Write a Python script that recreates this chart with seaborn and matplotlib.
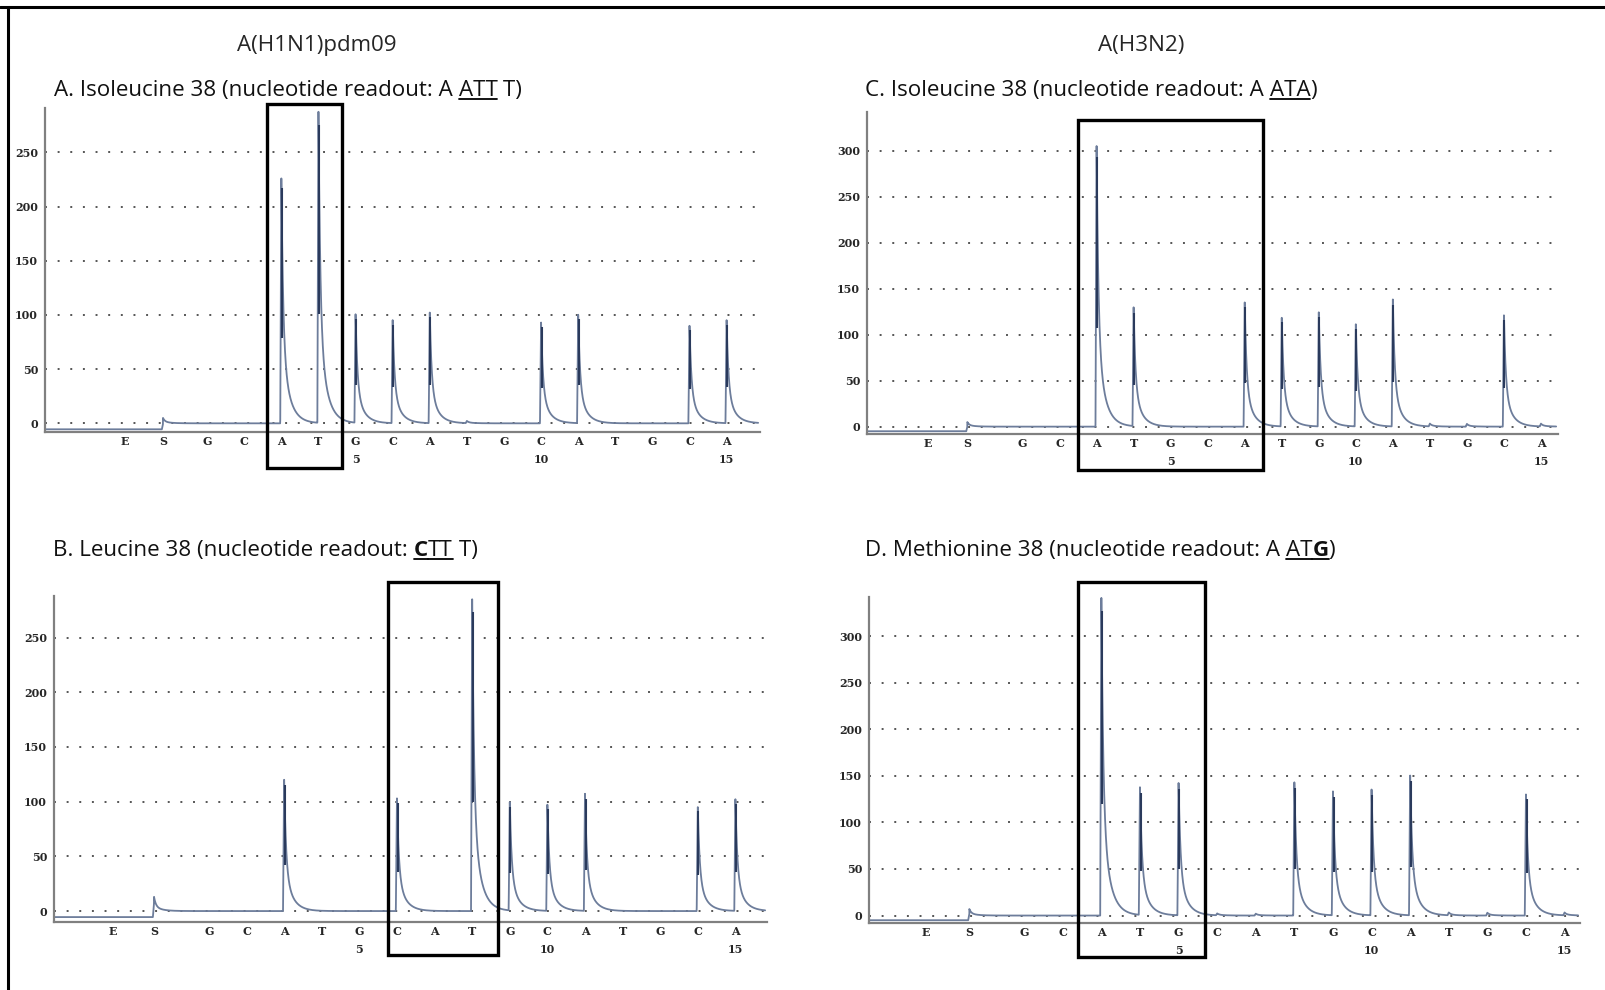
import numpy as np
import pandas as pd
import seaborn as sns
import matplotlib.pyplot as plt
from matplotlib.patches import Rectangle
from matplotlib.lines import Line2D
import matplotlib.transforms as mtransforms

# dispensation order after enzyme (E) and substrate (S)
dispensations = ["G", "C", "A", "T", "G", "C", "A", "T", "G", "C", "A", "T", "G", "C", "A"]
disp_numbers = {5: "5", 10: "10", 15: "15"}

# peak heights per dispensation
peaks_a = [0, 0, 226, 287, 100, 95, 102, 2, 0, 93, 100, 0, 0, 90, 95]
peaks_b = [0, 0, 120, 0, 0, 103, 0, 285, 99, 97, 107, 0, 0, 95, 102]
peaks_c = [0, 0, 305, 129, 0, 0, 135, 118, 124, 111, 138, 3, 3, 121, 3]
peaks_d = [0, 0, 341, 137, 142, 2, 2, 143, 133, 135, 150, 3, 3, 130, 3]

# substrate bump and baseline before substrate
s_bump = {"A": 5, "B": 13, "C": 5, "D": 7}
pre_level = {"A": -5.5, "B": -5.5, "C": -5.0, "D": -5.0}

subtype_labels = ["A(H1N1)pdm09", "A(H3N2)"]

titles = {
    "A": [("A. Isoleucine 38 (nucleotide readout: A ", False, False), ("ATT", False, True), (" T)", False, False)],
    "B": [("B. Leucine 38 (nucleotide readout: ", False, False), ("C", True, True), ("TT", False, True), (" T)", False, False)],
    "C": [("C. Isoleucine 38 (nucleotide readout: A ", False, False), ("ATA", False, True), (")", False, False)],
    "D": [("D. Methionine 38 (nucleotide readout: A ", False, False), ("AT", False, True), ("G", True, True), (")", False, False)],
}

W, H = 1605, 990

# layout (pixels: left, top, right, bottom of axes)
layout = {
    "A": dict(peaks=peaks_a, rect=(45, 108, 760, 432), e=-1.21, s=-0.19, xlim=(-3.37, 15.9),
              ylim=(-8, 291), ymax_tick=250, box=(2.62, 4.64, 1.012, -0.111), title_xy=(54, 96)),
    "B": dict(peaks=peaks_b, rect=(54, 596, 767, 922), e=-1.55, s=-0.46, xlim=(-3.12, 15.84),
              ylim=(-10, 288), ymax_tick=250, box=(5.76, 8.69, 1.043, -0.101), title_xy=(53, 556)),
    "C": dict(peaks=peaks_c, rect=(867, 112, 1558, 434), e=-1.57, s=-0.49, xlim=(-3.2, 15.46),
              ylim=(-8, 342), ymax_tick=300, box=(2.49, 7.49, 0.975, -0.112), title_xy=(865, 96)),
    "D": dict(peaks=peaks_d, rect=(869, 597, 1580, 923), e=-1.54, s=-0.42, xlim=(-3.02, 15.4),
              ylim=(-8, 342), ymax_tick=300, box=(2.4, 5.69, 1.046, -0.104), title_xy=(865, 556)),
}

sns.set_style("white")
plt.rcParams["font.family"] = ["Open Sans", "DejaVu Sans"]

TRACE = "#6d7d9b"
CORE = "#2a3a5c"


def peak_shape(x, pos, height):
    t = x - pos
    rise = np.clip(t / 0.03 + 1, 0, 1) * (t < 0)
    tt = np.clip(t, 0, None)
    decay = (0.67 * np.exp(-tt / 0.05) + 0.33 * np.exp(-tt / 0.2)) * (t >= 0)
    return height * (rise + decay)


def build_trace(cfg, key):
    grid = np.linspace(cfg["xlim"][0], cfg["xlim"][1] - 0.05, 6000)
    x = np.unique(np.concatenate([grid, np.arange(1, 16, dtype=float), [cfg["s"]]]))
    y = np.where(x < cfg["s"], pre_level[key], 0.0)
    y = y + peak_shape(x, cfg["s"], s_bump[key])
    for i, h in enumerate(cfg["peaks"]):
        if h > 0:
            y = y + peak_shape(x, i + 1, h)
    return pd.DataFrame({"x": x, "signal": y})


fig = plt.figure(figsize=(W / 100, H / 100), dpi=100)

for key, cfg in layout.items():
    l, t, r, b = cfg["rect"]
    ax = fig.add_axes([l / W, 1 - b / H, (r - l) / W, (b - t) / H])
    df = build_trace(cfg, key)
    sns.lineplot(data=df, x="x", y="signal", ax=ax, color=TRACE, linewidth=1.3,
                 estimator=None, sort=False)
    # darker core of each peak
    pos = [i + 1 for i, h in enumerate(cfg["peaks"]) if h > 20]
    hs = [h for h in cfg["peaks"] if h > 20]
    ax.vlines([p + 0.015 for p in pos], [0.35 * h for h in hs], [0.96 * h for h in hs],
              color=CORE, linewidth=1.5)

    ax.set_xlim(*cfg["xlim"])
    ax.set_ylim(*cfg["ylim"])
    ax.set_xlabel("")
    ax.set_ylabel("")

    xt = [cfg["e"], cfg["s"]] + list(range(1, 16))
    xl = ["E", "S"] + [d + ("\n" + disp_numbers[i + 1] if (i + 1) in disp_numbers else "")
                       for i, d in enumerate(dispensations)]
    ax.set_xticks(xt)
    ax.set_xticklabels(xl, fontsize=8, fontweight="bold", family="DejaVu Serif",
                       linespacing=1.8, va="top")
    yt = list(range(0, cfg["ymax_tick"] + 1, 50))
    ax.set_yticks(yt)
    ax.set_yticklabels([str(v) for v in yt], fontsize=8, fontweight="bold", family="DejaVu Serif")
    ax.tick_params(axis="x", direction="in", length=4, width=1.2, color="#777777", pad=3)
    ax.tick_params(axis="y", direction="out", length=3, width=1.2, color="#777777", pad=2)

    ax.grid(axis="y", linestyle=(0, (1, 5.5)), color="#555555", linewidth=1.4)
    ax.grid(axis="x", visible=False)
    for side in ["top", "right"]:
        ax.spines[side].set_visible(False)
    for side in ["left", "bottom"]:
        ax.spines[side].set_color("#808080")
        ax.spines[side].set_linewidth(1.6)

    x0, x1, y1, y0 = cfg["box"]
    trans = mtransforms.blended_transform_factory(ax.transData, ax.transAxes)
    ax.add_patch(Rectangle((x0, y0), x1 - x0, y1 - y0, transform=trans, fill=False,
                           edgecolor="black", linewidth=2.4, clip_on=False, zorder=5))

fig.canvas.draw()
renderer = fig.canvas.get_renderer()


def run_width(s, bold, size):
    weight = "bold" if bold else "normal"
    t1 = fig.text(0, 0, s + "|", fontsize=size, fontweight=weight)
    t2 = fig.text(0, 0, "|", fontsize=size, fontweight=weight)
    w = t1.get_window_extent(renderer).width - t2.get_window_extent(renderer).width
    t1.remove()
    t2.remove()
    return w


# size the title font so panel A's title spans the same width as in the source
base = 10
title_a_w = sum(run_width(s, b, base) for s, b, _ in titles["A"])
TITLE_SIZE = base * 468 / title_a_w
head_w = run_width(subtype_labels[0], False, base)
HEAD_SIZE = base * 160 / head_w

# headers
fig.text(317 / W, 1 - 45 / H, subtype_labels[0], ha="center", va="center", fontsize=HEAD_SIZE)
fig.text(1141 / W, 1 - 45 / H, subtype_labels[1], ha="center", va="center", fontsize=HEAD_SIZE)

# panel titles with underlined parts
for key, runs in titles.items():
    px, py = layout[key]["title_xy"]
    for s, bold, under in runs:
        w = run_width(s, bold, TITLE_SIZE)
        fig.text(px / W, 1 - py / H, s, fontsize=TITLE_SIZE, fontweight="bold" if bold else "normal",
                 ha="left", va="baseline", color="#111111")
        if under:
            fig.add_artist(Line2D([px / W, (px + w) / W], [1 - (py + 3) / H] * 2,
                                  transform=fig.transFigure, color="black", linewidth=1.3))
        px += w

# outer frame (top and left edges)
fig.add_artist(Line2D([0, 1], [1 - 6.5 / H] * 2, transform=fig.transFigure, color="black", linewidth=2.2))
fig.add_artist(Line2D([8 / W] * 2, [0, 1 - 6.5 / H], transform=fig.transFigure, color="black", linewidth=2.2))

fig.savefig("out.png", dpi=100)
